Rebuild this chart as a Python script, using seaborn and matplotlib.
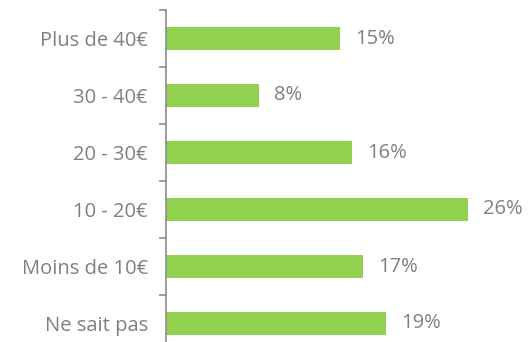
import matplotlib
matplotlib.use("Agg")
import matplotlib.pyplot as plt
import seaborn as sns
import pandas as pd
import numpy as np

categories = ["Plus de 40€", "30 - 40€", "20 - 30€", "10 - 20€", "Moins de 10€", "Ne sait pas"]
values = [15, 8, 16, 26, 17, 19]
value_labels = ["15%", "8%", "16%", "26%", "17%", "19%"]

sns.set_theme(style="white")
plt.rcParams["font.family"] = ["Open Sans", "DejaVu Sans"]

grey_text = "#808080"
green = "#92D050"

df = pd.DataFrame({"cat": categories, "val": values})

fig = plt.figure(figsize=(5.28, 3.42), dpi=100)
ax = fig.add_axes([166 / 528, -10 / 342, 1 - 166 / 528, 342 / 342])

sns.barplot(data=df, x="val", y="cat", orient="h", color=green, width=0.4,
            saturation=1, ax=ax, edgecolor="none")

ax.set_xlim(0, 362 / 11.6)
ax.set_ylim(len(categories) - 0.5, -0.5)

for i, (v, lab) in enumerate(zip(values, value_labels)):
    ax.text(v + 1.3, i, lab, va="center", ha="left", fontsize=14.5, color=grey_text)

for s in ["top", "right", "bottom"]:
    ax.spines[s].set_visible(False)
ax.spines["left"].set_color("#8c8c8c")
ax.spines["left"].set_linewidth(1.2)

ax.set_xticks([])
ax.set_xlabel("")
ax.set_ylabel("")
ax.set_yticks(range(len(categories)))
ax.set_yticklabels(categories)
ax.tick_params(axis="y", which="major", length=0, pad=13, labelsize=14.5, labelcolor=grey_text)
ax.set_yticks(np.arange(-0.5, len(categories), 1.0), minor=True)
ax.tick_params(axis="y", which="minor", length=5, width=1.2, color="#8c8c8c", direction="out", left=True)

fig.savefig("out.png", dpi=100)
